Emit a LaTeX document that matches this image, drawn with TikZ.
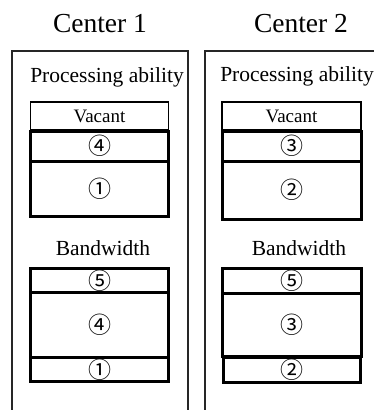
\documentclass[tikz,border=0pt]{standalone}
\usepackage{fontspec}
\setmainfont{Liberation Serif}
\newfontfamily\cfont{Noto Sans CJK JP}
\begin{document}
\begin{tikzpicture}[x=1pt,y=-1pt,
  frame/.style={draw=black!85,line width=1.2pt},
  thinbox/.style={draw=black,line width=1.1pt,rectangle,inner sep=0pt,minimum width=138pt},
  thickbox/.style={draw=black,line width=3pt,rectangle,inner sep=0pt,minimum width=138pt},
  title/.style={font=\fontsize{27.5}{28}\selectfont,inner sep=0pt},
  label/.style={font=\fontsize{21.5}{22}\selectfont,inner sep=0pt},
  vac/.style={font=\fontsize{19}{19}\selectfont},
  num/.style={font=\cfont\fontsize{23}{23}\selectfont,inner sep=0pt}]
\useasboundingbox (0,0) rectangle (373,410);

% outer frames (open at the bottom)
\draw[frame] (12,412) -- (12,51) -- (188,51) -- (188,412);
\draw[frame] (205,412) -- (205,51) -- (375,51);

% titles
\node[title] (t1) at (100,24) {Center 1};
\node[title] (t2) at (301,24) {Center 2};

% ---- Center 1 ----
\node[label] (p1) at (107,77) {Processing ability};
\node[thinbox,minimum height=28pt,vac] (v1) at (99.5,116) {Vacant};
\node[thickbox,minimum height=29.5pt] (a1) at (99.5,146.25) {};
\node[num] at (a1.center) {④};
\node[thickbox,minimum height=55.5pt] (b1) at (99.5,188.75) {};
\node[num] at (b1.center) {①};
\node[label] (w1) at (103,248) {Bandwidth};
\node[thickbox,minimum height=24pt] (c1) at (99.5,280.5) {};
\node[num] at (c1.center) {⑤};
\node[thickbox,minimum height=65pt] (d1) at (99.5,325) {};
\node[num] at (d1.center) {④};
\node[thickbox,minimum height=24pt] (e1) at (99.5,369.5) {};
\node[num] at (e1.center) {①};

% ---- Center 2 ----
\node[label] (p2) at (297,76) {Processing ability};
\node[thinbox,minimum width=139pt,minimum height=28pt,vac] (v2) at (291.5,116) {Vacant};
\node[thickbox,minimum width=139pt,minimum height=29.5pt] (a2) at (291.5,146.25) {};
\node[num] at (a2.center) {③};
\node[thickbox,minimum width=139pt,minimum height=58pt] (b2) at (291.5,190) {};
\node[num] at (b2.center) {②};
\node[label] (w2) at (299,248) {Bandwidth};
\node[thickbox,minimum width=139pt,minimum height=25pt] (c2) at (291.5,281) {};
\node[num] at (c2.center) {⑤};
\node[thickbox,minimum width=139pt,minimum height=63pt] (d2) at (291.5,325) {};
\node[num] at (d2.center) {③};
\node[thickbox,minimum width=137pt,minimum height=25pt] (e2) at (291.5,369.5) {};
\node[num] at (e2.center) {②};
\end{tikzpicture}
\end{document}
